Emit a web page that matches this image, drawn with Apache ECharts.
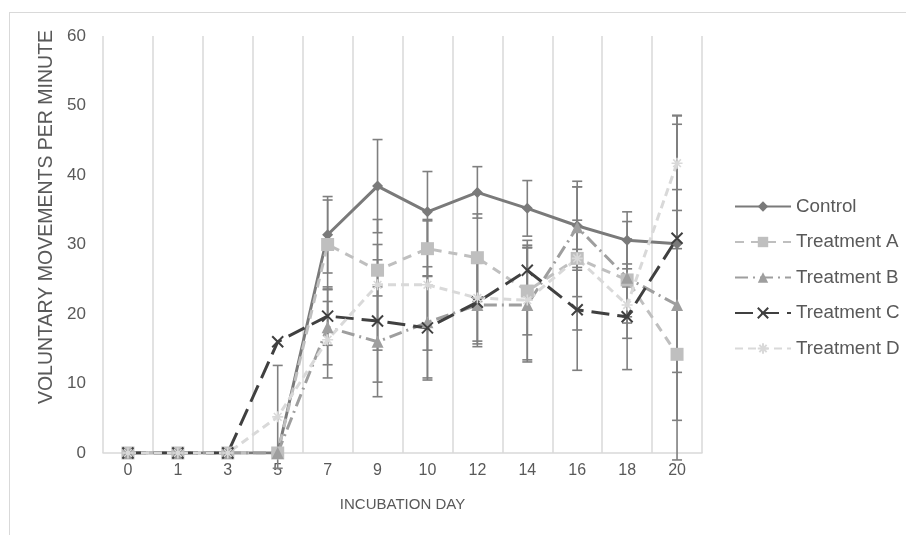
<!DOCTYPE html>
<html>
<head>
<meta charset="utf-8">
<script src="https://cdn.jsdelivr.net/npm/echarts@6/dist/echarts.min.js"></script>
<style>
  html, body { margin: 0; padding: 0; background: #ffffff; overflow: hidden; }
  #frame { position: absolute; left: 9px; top: 12px; width: 1000px; height: 700px; border: 1px solid #d9d9d9; box-sizing: border-box; }
  #chart { position: absolute; left: 0; top: 0; width: 906px; height: 535px; }
</style>
</head>
<body>
<div id="frame"></div>
<div id="chart"></div>
<script>
// Incubation days (category axis)
const days = ['0', '1', '3', '5', '7', '9', '10', '12', '14', '16', '18', '20'];

// Mean voluntary movements per minute
const control    = [0, 0, 0, 0, 31.4, 38.4, 34.7, 37.5, 35.2, 32.7, 30.6, 30.1];
const treatmentA = [0, 0, 0, 0, 30.0, 26.3, 29.4, 28.1, 23.3, 28.0, 24.9, 14.2];
const treatmentB = [0, 0, 0, 0, 18.1, 16.0, 18.8, 21.3, 21.3, 32.5, 25.2, 21.3];
const treatmentC = [0, 0, 0, 16.0, 19.7, 19.0, 18.0, 21.7, 26.3, 20.6, 19.6, 30.9];
const treatmentD = [0, 0, 0, 5.2, 16.3, 24.2, 24.2, 22.3, 22.0, 28.0, 21.3, 41.7];

// Error bar half-widths (±)
const controlErr    = [0, 0, 0, 0, 5.5, 6.7, 5.8, 3.7, 4.0, 6.4, 4.1, 18.5];
const treatmentAErr = [0, 0, 0, 0, 6.4, 3.7, 4.0, 6.3, 6.3, 10.3, 8.4, 15.2];
const treatmentBErr = [0, 0, 0, 0, 5.4, 7.9, 8.0, 6.0, 8.2, 5.8, 5.6, 16.6];
const treatmentCErr = [0, 0, 0, 0, 4.2, 8.8, 7.5, 6.0, 3.6, 8.7, 7.6, 16.4];
const treatmentDErr = [0, 0, 0, 7.4, 5.5, 9.4, 9.4, 6.2, 8.6, 5.5, 2.6, 6.8];

const yTicks = [0, 10, 20, 30, 40, 50, 60];

const seriesDefs = [
  { name: 'Control',     values: control,    errs: controlErr,    color: '#7a7a7a', dash: 'solid',      symbol: 'diamond',  size: 11, border: 0 },
  { name: 'Treatment A', values: treatmentA, errs: treatmentAErr, color: '#bfbfbf', dash: [9, 7],       symbol: 'rect',     size: 13, border: 0 },
  { name: 'Treatment B', values: treatmentB, errs: treatmentBErr, color: '#9e9e9e', dash: [13, 5, 2, 5], symbol: 'triangle', size: 12, border: 0 },
  { name: 'Treatment C', values: treatmentC, errs: treatmentCErr, color: '#404040', dash: [18, 8],      symbol: 'path://M0,0L10,10M10,0L0,10', size: 11, border: 2 },
  { name: 'Treatment D', values: treatmentD, errs: treatmentDErr, color: '#d9d9d9', dash: [8, 5],       symbol: 'path://M5,0L5,10M0,5L10,5M1.5,1.5L8.5,8.5M8.5,1.5L1.5,8.5', size: 11, border: 1.6 }
];

// Error bar items: [category index, low, high]
const errorItems = [];
seriesDefs.forEach(function (s) {
  s.values.forEach(function (v, i) {
    if (s.errs[i] > 0) errorItems.push([i, v - s.errs[i], v + s.errs[i]]);
  });
});

const chart = echarts.init(document.getElementById('chart'), null, { renderer: 'canvas' });

const lineSeries = seriesDefs.map(function (s) {
  return {
    name: s.name,
    type: 'line',
    data: s.values,
    symbol: s.symbol,
    symbolSize: s.size,
    showSymbol: true,
    z: 3,
    lineStyle: { color: s.color, width: 3, type: s.dash, cap: 'butt' },
    itemStyle: { color: s.color, borderColor: s.color, borderWidth: s.border, opacity: 1 },
    emphasis: { disabled: true },
    animation: false
  };
});

const errorSeries = {
  name: 'errors',
  type: 'custom',
  data: errorItems,
  z: 2,
  clip: false,
  silent: true,
  animation: false,
  renderItem: function (params, api) {
    const x = api.value(0);
    const lo = api.coord([x, api.value(1)]);
    const hi = api.coord([x, api.value(2)]);
    const half = 5;
    const style = { stroke: '#7f7f7f', lineWidth: 1.6 };
    return {
      type: 'group',
      children: [
        { type: 'line', shape: { x1: hi[0], y1: hi[1], x2: lo[0], y2: lo[1] }, style: style },
        { type: 'line', shape: { x1: hi[0] - half, y1: hi[1], x2: hi[0] + half, y2: hi[1] }, style: style },
        { type: 'line', shape: { x1: lo[0] - half, y1: lo[1], x2: lo[0] + half, y2: lo[1] }, style: style }
      ]
    };
  },
  encode: { x: 0, y: [1, 2] }
};

const FONT = 'Liberation Sans, Arial, sans-serif';

chart.setOption({
  backgroundColor: 'transparent',
  animation: false,
  textStyle: { fontFamily: FONT },
  grid: { left: 103, right: 204, top: 36, bottom: 82, containLabel: false },
  legend: {
    data: seriesDefs.map(function (s) { return s.name; }),
    orient: 'vertical',
    left: 729,
    top: 192,
    itemWidth: 56,
    itemHeight: 13,
    itemGap: 16.5,
    selectedMode: false,
    textStyle: { fontSize: 18.8, color: '#595959', fontFamily: FONT }
  },
  xAxis: {
    type: 'category',
    data: days,
    boundaryGap: true,
    name: 'INCUBATION DAY',
    nameLocation: 'middle',
    nameGap: 44,
    nameTextStyle: { fontSize: 15, color: '#595959' },
    axisLine: { show: true, lineStyle: { color: '#d9d9d9', width: 1.5 } },
    axisTick: { show: false },
    axisLabel: { fontSize: 16, color: '#595959', margin: 10, interval: 0 },
    splitLine: { show: true, interval: 0, lineStyle: { color: '#d9d9d9', width: 1.5 } }
  },
  yAxis: {
    type: 'value',
    min: yTicks[0],
    max: yTicks[yTicks.length - 1],
    interval: 10,
    axisLine: { show: false },
    axisTick: { show: false },
    splitLine: { show: false },
    axisLabel: { fontSize: 17, color: '#595959', margin: 17 }
  },
  graphic: [{
    type: 'text',
    x: 47,
    y: 217,
    rotation: Math.PI / 2,
    style: {
      text: 'VOLUNTARY MOVEMENTS PER MINUTE',
      fontSize: 19.5,
      fill: '#595959',
      fontFamily: FONT,
      align: 'center',
      verticalAlign: 'middle'
    }
  }],
  series: [errorSeries].concat(lineSeries)
});
</script>
</body>
</html>
